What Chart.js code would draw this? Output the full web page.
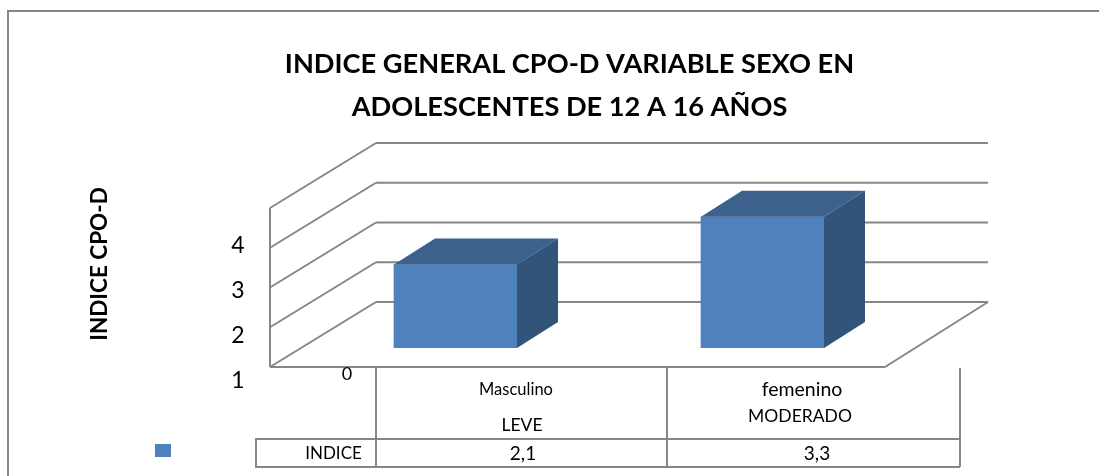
<!DOCTYPE html>
<html>
<head>
<meta charset="utf-8">
<style>
  html, body { margin: 0; padding: 0; background: #fff; }
  #wrap { width: 1099px; height: 476px; }
</style>
<script src="https://cdn.jsdelivr.net/npm/chart.js@4"></script>
</head>
<body>
<div id="wrap"><canvas id="chart" width="1099" height="476"></canvas></div>
<script>
const categories = ['Masculino', 'femenino'];
const severity = ['LEVE', 'MODERADO'];
const indice = [2.1, 3.3];
const tableValues = ['2,1', '3,3'];
const seriesName = 'INDICE';
const yTitle = 'INDICE CPO-D';
const titleLines = ['INDICE GENERAL CPO-D VARIABLE SEXO EN', 'ADOLESCENTES DE 12 A 16 AÑOS'];
const yLabels = ['1', '2', '3', '4'];

const LINE = '#868686';
const FONT = 'Lato, Carlito, sans-serif';

function seg(ctx, x1, y1, x2, y2) {
  ctx.beginPath();
  ctx.moveTo(x1, y1);
  ctx.lineTo(x2, y2);
  ctx.stroke();
}

function text(ctx, str, x, y, font, align) {
  ctx.font = font;
  ctx.textAlign = align || 'center';
  ctx.textBaseline = 'middle';
  ctx.fillStyle = '#000';
  ctx.fillText(str, x, y);
}

// walls, floor and frame go behind the bars
const backdrop = {
  id: 'backdrop',
  beforeDatasetsDraw(chart) {
    const { ctx, scales: { y } } = chart;
    ctx.save();
    ctx.strokeStyle = LINE;
    ctx.lineWidth = 2;
    seg(ctx, 8, 11, 1099, 11);
    seg(ctx, 8, 10, 8, 476);

    y.ticks.forEach(t => {
      const py = y.getPixelForValue(t.value);
      seg(ctx, 270, py + 19, 376, py - 46);
      seg(ctx, 376, py - 46, 988, py - 46);
    });
    const y0 = y.getPixelForValue(0);
    const y4 = y.getPixelForValue(4);
    seg(ctx, 270, y4 + 19, 270, y0 + 19);
    seg(ctx, 270, y0 + 19, 885, y0 + 19);
    seg(ctx, 885, y0 + 19, 988, y0 - 46);
    ctx.restore();
  }
};

// top and side faces of the bars, then all the texts and the data table
const faces = {
  id: 'faces',
  afterDatasetsDraw(chart) {
    const { ctx } = chart;
    const bars = chart.getDatasetMeta(0).data;
    ctx.save();
    bars.forEach(b => {
      const l = b.x - b.width / 2, r = b.x + b.width / 2;
      ctx.fillStyle = '#3c618d';
      ctx.beginPath();
      ctx.moveTo(l, b.y);
      ctx.lineTo(l + 41, b.y - 26);
      ctx.lineTo(r + 41, b.y - 26);
      ctx.lineTo(r, b.y);
      ctx.closePath();
      ctx.fill();
      ctx.fillStyle = '#325479';
      ctx.beginPath();
      ctx.moveTo(r, b.y);
      ctx.lineTo(r + 41, b.y - 26);
      ctx.lineTo(r + 41, b.base - 26);
      ctx.lineTo(r, b.base);
      ctx.closePath();
      ctx.fill();
    });

    ctx.strokeStyle = LINE;
    ctx.lineWidth = 2;
    [376, 667, 960].forEach(x => seg(ctx, x, 368, x, 467));
    seg(ctx, 256, 439, 960, 439);
    seg(ctx, 256, 467, 960, 467);
    seg(ctx, 256, 438, 256, 468);
    ctx.fillStyle = '#4f81bd';
    ctx.fillRect(155, 444, 16, 13);

    text(ctx, titleLines[0], 569.5, 64, 'bold 27.2px ' + FONT);
    text(ctx, titleLines[1], 569.5, 107, 'bold 27.2px ' + FONT);

    ctx.save();
    ctx.translate(100, 264);
    ctx.rotate(-Math.PI / 2);
    text(ctx, yTitle, 0, 0, 'bold 22.5px ' + FONT);
    ctx.restore();

    yLabels.forEach((s, i) => text(ctx, s, 238, 381 - i * 45, '23px ' + FONT));
    text(ctx, '0', 347, 374, '18px ' + FONT);

    text(ctx, categories[0], 516, 390, '16.5px ' + FONT);
    text(ctx, severity[0], 522, 425, '17.5px ' + FONT);
    text(ctx, categories[1], 802, 390, '19.5px ' + FONT);
    text(ctx, severity[1], 800, 416, '17.5px ' + FONT);
    text(ctx, seriesName, 333.5, 454, '17px ' + FONT);
    text(ctx, tableValues[0], 523, 454, '19px ' + FONT);
    text(ctx, tableValues[1], 817, 454, '19px ' + FONT);
    ctx.restore();
  }
};

new Chart(document.getElementById('chart'), {
  type: 'bar',
  data: {
    labels: categories,
    datasets: [{
      label: seriesName,
      data: indice,
      backgroundColor: '#4f81bd',
      barThickness: 123
    }]
  },
  options: {
    responsive: false,
    animation: false,
    layout: { padding: { left: 302, right: 183, top: 189, bottom: 128 } },
    plugins: { legend: { display: false }, title: { display: false }, tooltip: { enabled: false } },
    scales: {
      x: { display: false },
      y: { display: false, min: 0, max: 4, ticks: { stepSize: 1 } }
    }
  },
  plugins: [backdrop, faces]
});
</script>
</body>
</html>
